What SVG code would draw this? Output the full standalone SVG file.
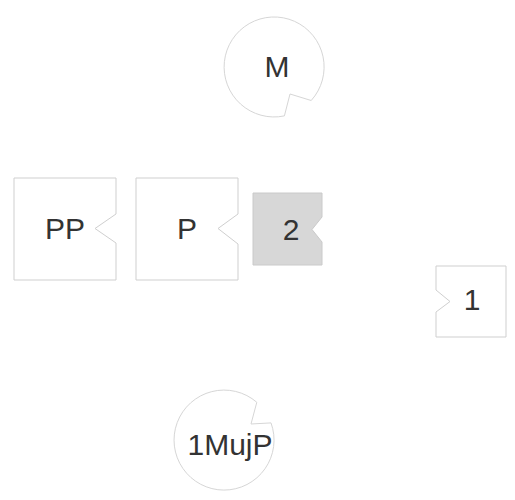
<svg xmlns="http://www.w3.org/2000/svg" width="515" height="500" viewBox="0 0 515 500">
  <style>
    .shape { fill: #ffffff; stroke: #cfcfcf; stroke-width: 1; }
    .circ { fill: #ffffff; stroke: #d6d6d6; stroke-width: 1; }
    .gray { fill: #d7d7d7; stroke: #cacaca; stroke-width: 1; }
    .lbl { font-family: "Liberation Sans", Arial, sans-serif; font-size: 30px; fill: #333333; text-anchor: middle; }
  </style>
  <rect width="515" height="500" fill="#ffffff"/>
  <g id="connectors"></g>
  <g id="node-M">
    <path class="circ" d="M 284.4 115.9 A 50 50 0 1 1 311.2 100.5 L 290 94 Z"/>
    <text class="lbl" x="277" y="77">M</text>
  </g>
  <g id="node-PP">
    <path class="shape" d="M 14 178 L 116 178 L 116 214 L 95 228.5 L 116 243 L 116 280 L 14 280 Z"/>
    <text class="lbl" x="65" y="239">PP</text>
  </g>
  <g id="node-P">
    <path class="shape" d="M 136 178 L 238 178 L 238 214 L 218 228.5 L 238 244 L 238 280 L 136 280 Z"/>
    <text class="lbl" x="187" y="239">P</text>
  </g>
  <g id="node-2">
    <path class="gray" d="M 253 193 L 322 193 L 322 217 L 312 229.5 L 322 242 L 322 265 L 253 265 Z"/>
    <text class="lbl" x="291" y="240">2</text>
  </g>
  <g id="node-1">
    <path class="shape" d="M 436 266 L 506 266 L 506 337 L 436 337 L 436 312 L 450 301.5 L 436 290 Z"/>
    <text class="lbl" x="472" y="310">1</text>
  </g>
  <g id="node-1MujP">
    <path class="circ" d="M 271 422.9 A 50 50 0 1 1 256.8 402.3 L 251 424 Z"/>
    <text class="lbl" x="230" y="455">1MujP</text>
  </g>
</svg>
